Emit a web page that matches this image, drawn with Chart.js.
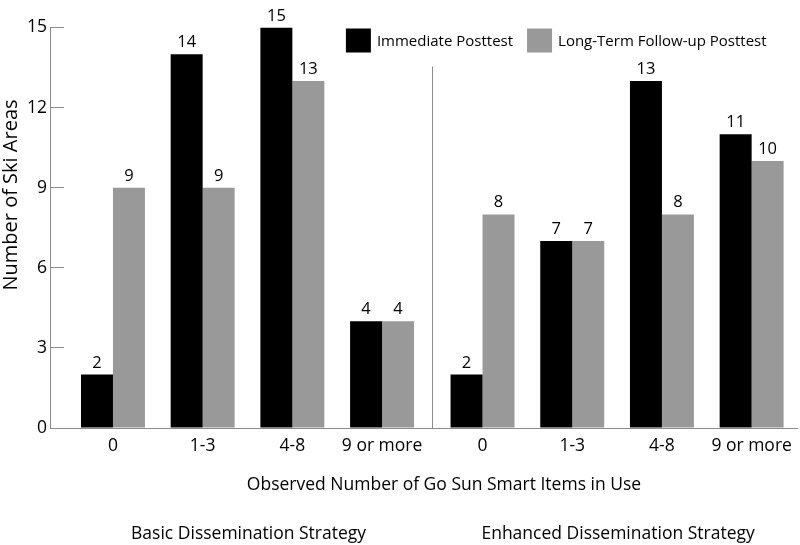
<!DOCTYPE html>
<html><head><meta charset="utf-8">
<script src="https://cdn.jsdelivr.net/npm/chart.js@4.4.0/dist/chart.umd.min.js"></script>
<style>html,body{margin:0;padding:0;background:#fff}</style>
</head><body>
<canvas id="c" width="800" height="545"></canvas>
<script>
// ---- data ----
const categories = ['0', '1-3', '4-8', '9 or more', '0', '1-3', '4-8', '9 or more'];
const strategies = ['Basic Dissemination Strategy', 'Enhanced Dissemination Strategy'];
const seriesNames = ['Immediate Posttest', 'Long-Term Follow-up Posttest'];
const immediate = [2, 14, 15, 4, 2, 7, 13, 11];
const longTerm = [9, 9, 13, 4, 8, 7, 8, 10];
const yTicks = [0, 3, 6, 9, 12, 15];
const xTitle = 'Observed Number of Go Sun Smart Items in Use';
const yTitle = 'Number of Ski Areas';

// ---- layout helpers ----
const FONT = "'Open Sans', 'DejaVu Sans', sans-serif";
const GROUP_GAP = 0.12;
const groupSize = categories.length / strategies.length;
const positions = categories.map((c, i) => i + Math.floor(i / groupSize) * GROUP_GAP);
const toPoints = arr => arr.map((v, i) => ({ x: positions[i], y: v }));

const decor = {
  id: 'decor',
  afterDatasetsDraw(chart) {
    const ctx = chart.ctx;
    ctx.save();
    ctx.fillStyle = '#000';
    ctx.font = '16.5px ' + FONT;
    ctx.textAlign = 'center';
    ctx.textBaseline = 'alphabetic';
    chart.data.datasets.forEach((ds, di) => {
      const meta = chart.getDatasetMeta(di);
      meta.data.forEach((bar, i) => {
        ctx.fillText(String(ds.data[i].y), bar.x, bar.y - 7);
      });
    });
    ctx.restore();
  },
  afterDraw(chart) {
    const ctx = chart.ctx;
    const xs = chart.scales.x;
    const area = chart.chartArea;
    ctx.save();
    // separator between strategy groups
    for (let g = 1; g < strategies.length; g++) {
      const a = xs.getPixelForValue(positions[g * groupSize - 1]);
      const b = xs.getPixelForValue(positions[g * groupSize]);
      const sx = Math.round((a + b) / 2) + 0.5;
      ctx.strokeStyle = '#8c8c8c';
      ctx.lineWidth = 1;
      ctx.beginPath();
      ctx.moveTo(sx, area.top + 39);
      ctx.lineTo(sx, area.bottom);
      ctx.stroke();
    }
    // legend (top right, inside plot)
    ctx.font = '15px ' + FONT;
    ctx.textAlign = 'left';
    ctx.textBaseline = 'middle';
    const boxW = 25, boxH = 24, textGap = 6, itemGap = 14;
    const items = chart.data.datasets.map(ds => ({ label: ds.label, color: ds.backgroundColor, w: ctx.measureText(ds.label).width }));
    const total = items.reduce((s, it) => s + boxW + textGap + it.w, 0) + itemGap * (items.length - 1);
    let lx = area.right - 31 - total;
    const ly = area.top + 1;
    items.forEach(it => {
      ctx.fillStyle = it.color;
      ctx.fillRect(lx, ly, boxW, boxH);
      ctx.fillStyle = '#000';
      ctx.fillText(it.label, lx + boxW + textGap, ly + boxH / 2 + 1);
      lx += boxW + textGap + it.w + itemGap;
    });
    ctx.fillStyle = '#000';
    ctx.textAlign = 'center';
    ctx.textBaseline = 'alphabetic';
    // x title
    ctx.font = '17.5px ' + FONT;
    ctx.fillText(xTitle, 444, 490);
    // group labels
    strategies.forEach((s, g) => {
      const a = xs.getPixelForValue(positions[g * groupSize]);
      const b = xs.getPixelForValue(positions[g * groupSize + groupSize - 1]);
      ctx.fillText(s, (a + b) / 2 + 1, 539);
    });
    // y title
    ctx.font = '20px ' + FONT;
    ctx.translate(11, 195);
    ctx.rotate(-Math.PI / 2);
    ctx.textBaseline = 'middle';
    ctx.fillText(yTitle, 0, 0);
    ctx.restore();
  }
};

new Chart(document.getElementById('c'), {
  type: 'bar',
  data: {
    datasets: [
      { label: seriesNames[0], data: toPoints(immediate), backgroundColor: '#000000', borderWidth: 0 },
      { label: seriesNames[1], data: toPoints(longTerm), backgroundColor: '#999999', borderWidth: 0 }
    ]
  },
  options: {
    responsive: false,
    animation: false,
    devicePixelRatio: 1,
    layout: { padding: { top: 18, right: 2, left: 0, bottom: 0 } },
    categoryPercentage: 0.713,
    barPercentage: 1,
    plugins: {
      legend: { display: false },
      tooltip: { enabled: false }
    },
    scales: {
      x: {
        type: 'linear',
        offset: false,
        min: -0.702,
        max: 7.632,
        afterBuildTicks: s => { s.ticks = positions.map(v => ({ value: v })); },
        afterFit: s => { s.height = 117; },
        grid: { display: false, drawTicks: false },
        border: { display: true, color: '#8c8c8c', width: 1 },
        ticks: {
          autoSkip: false, maxRotation: 0, padding: 8,
          color: '#000', font: { family: FONT, size: 17.5 },
          callback: (v, i) => categories[i]
        }
      },
      y: {
        min: 0, max: 15,
        afterBuildTicks: s => { s.ticks = yTicks.map(v => ({ value: v })); },
        afterFit: s => { s.width = 50; },
        grid: { display: true, drawOnChartArea: false, drawTicks: true, tickLength: -14, color: '#8c8c8c' },
        border: { display: true, color: '#8c8c8c', width: 1 },
        ticks: { padding: 17, color: '#000', font: { family: FONT, size: 17.5 } }
      }
    }
  },
  plugins: [decor]
});
</script>
</body></html>
